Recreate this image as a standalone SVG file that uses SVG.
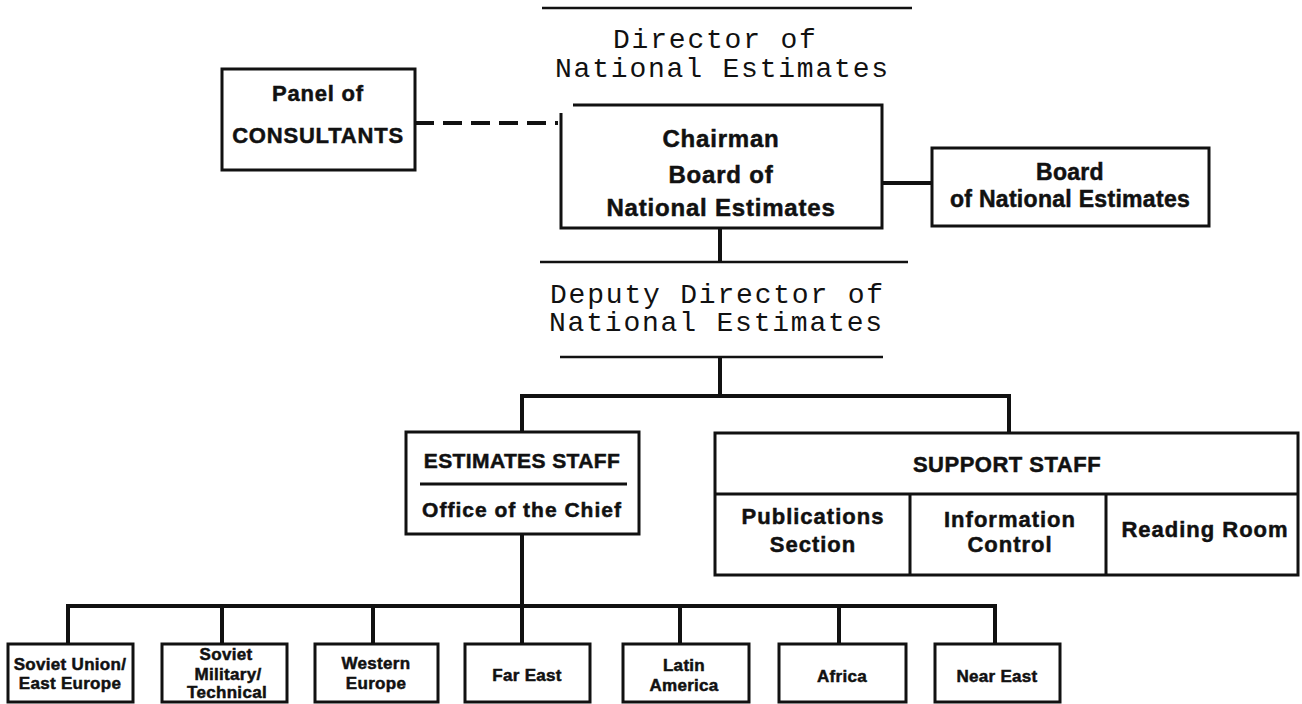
<svg xmlns="http://www.w3.org/2000/svg" width="1302" height="704" viewBox="0 0 1302 704">
<style>
.box{fill:#fff;stroke:#111;stroke-width:3}
.ln{fill:none;stroke:#111;stroke-width:4}
.thin{fill:none;stroke:#111;stroke-width:2.5}
.b{font-family:"Liberation Sans",Arial,sans-serif;font-weight:bold;fill:#111;stroke:#111;stroke-width:0.5;text-anchor:middle}
.m{font-family:"Liberation Mono","Courier New",monospace;fill:#111;font-size:28px;letter-spacing:1.8px}
.s17{font-size:17px;letter-spacing:0.3px}
.s22{font-size:22px;letter-spacing:1px}
</style>
<rect width="1302" height="704" fill="#fff"/>
<g id="connectors">
<path class="ln" d="M415,123 H558" stroke-dasharray="19,9"/>
<path class="ln" d="M882,183 H932"/>
<path class="ln" d="M720,228 V262"/>
<path class="ln" d="M720,357 V396"/>
<path class="ln" d="M522,432 V396 H1009 V433"/>
<path class="ln" d="M522,534 V644"/>
<path class="ln" d="M68,644 V606 H995 V644"/>
<path class="ln" d="M222,606 V644 M373,606 V644 M680,606 V644 M839,606 V644"/>
</g>
<g id="director">
<path class="thin" d="M542,8 H912"/>
<text class="m" x="613" y="48">Director of</text>
<text class="m" x="555" y="77">National Estimates</text>
</g>
<g id="chairman">
<path class="box" d="M573,105 H882 V228 H561 V113"/>
<text class="b" x="721" y="147" font-size="24" letter-spacing="0.8">Chairman</text>
<text class="b" x="721" y="183" font-size="24" letter-spacing="0.8">Board of</text>
<text class="b" x="721" y="216" font-size="24" letter-spacing="0.8">National Estimates</text>
</g>
<g id="panel">
<rect class="box" x="222" y="69" width="193" height="101"/>
<text class="b" x="318" y="101" font-size="22" letter-spacing="0.8">Panel of</text>
<text class="b" x="318" y="143" font-size="22" letter-spacing="0.8">CONSULTANTS</text>
</g>
<g id="board">
<rect class="box" x="932" y="148" width="277" height="78"/>
<text class="b" x="1070" y="180" font-size="23" letter-spacing="0.3">Board</text>
<text class="b" x="1070" y="207" font-size="23" letter-spacing="0.3">of National Estimates</text>
</g>
<g id="deputy">
<path class="thin" d="M540,262 H908"/>
<text class="m" x="550" y="303">Deputy Director of</text>
<text class="m" x="549" y="331">National Estimates</text>
<path class="thin" d="M560,357 H883"/>
</g>
<g id="estimates-staff">
<rect class="box" x="406" y="432" width="233" height="102"/>
<text class="b" x="522" y="468" font-size="21" letter-spacing="0.4">ESTIMATES STAFF</text>
<path class="box" d="M420,484 H627"/>
<text class="b" x="522" y="517" font-size="21" letter-spacing="1">Office of the Chief</text>
</g>
<g id="support-staff">
<rect class="box" x="715" y="433" width="583" height="142"/>
<path class="box" d="M715,494 H1298 M910,494 V575 M1106,494 V575"/>
<text class="b" x="1007" y="472" font-size="22" letter-spacing="0.5">SUPPORT STAFF</text>
</g>
<g id="publications">
<text class="b s22" x="813" y="524">Publications</text>
<text class="b s22" x="813" y="552">Section</text>
</g>
<g id="information-control">
<text class="b s22" x="1010" y="527">Information</text>
<text class="b s22" x="1010" y="552">Control</text>
</g>
<g id="reading-room">
<text class="b s22" x="1205" y="537">Reading Room</text>
</g>
<g id="soviet-union">
<rect class="box" x="8" y="644" width="125" height="58"/>
<text class="b s17" x="70" y="670">Soviet Union/</text>
<text class="b s17" x="70" y="689">East Europe</text>
</g>
<g id="soviet-military">
<rect class="box" x="162" y="644" width="125" height="58"/>
<text class="b s17" x="226" y="660">Soviet</text>
<text class="b s17" x="228" y="680">Military/</text>
<text class="b s17" x="227" y="698">Technical</text>
</g>
<g id="western-europe">
<rect class="box" x="315" y="644" width="123" height="58"/>
<text class="b s17" x="376" y="669">Western</text>
<text class="b s17" x="376" y="689">Europe</text>
</g>
<g id="far-east">
<rect class="box" x="465" y="644" width="125" height="58"/>
<text class="b s17" x="527" y="681">Far East</text>
</g>
<g id="latin-america">
<rect class="box" x="623" y="644" width="126" height="58"/>
<text class="b s17" x="684" y="671">Latin</text>
<text class="b s17" x="684" y="691">America</text>
</g>
<g id="africa">
<rect class="box" x="779" y="644" width="127" height="58"/>
<text class="b s17" x="842" y="682">Africa</text>
</g>
<g id="near-east">
<rect class="box" x="935" y="644" width="125" height="58"/>
<text class="b s17" x="997" y="682">Near East</text>
</g>
</svg>
